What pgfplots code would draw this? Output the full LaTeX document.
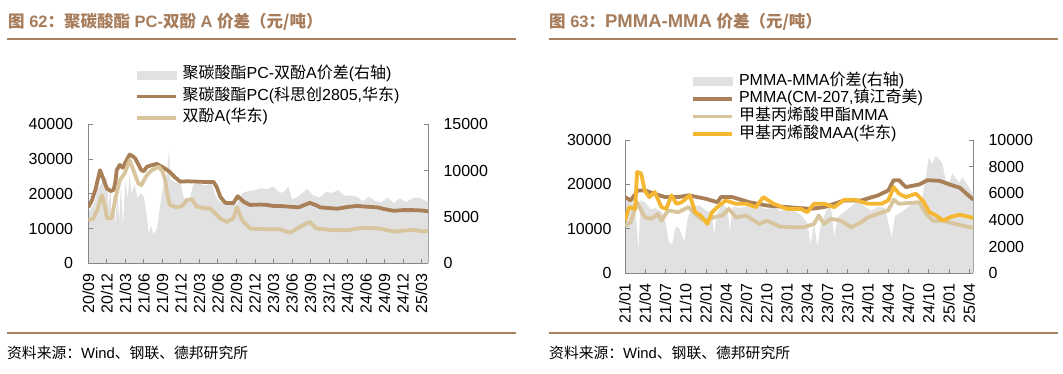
\documentclass[border=0pt]{standalone}
\usepackage{pgfplots}
\pgfplotsset{compat=1.18}
\usepackage{fontspec}
\setmainfont{Liberation Sans}
\newfontfamily\cjk{Noto Sans CJK SC}
\definecolor{pcbrown}{HTML}{A97F57}
\definecolor{bpatan}{HTML}{D9C59D}
\definecolor{maayel}{HTML}{F5B731}
\definecolor{areagray}{HTML}{E1E1E1}
\definecolor{titlebrown}{HTML}{A67C5A}
\definecolor{rulebrown}{HTML}{A8825E}
\definecolor{axisgray}{HTML}{868686}
\pgfplotsset{
  base/.style={
    scale only axis,
    axis line style={draw=axisgray, line width=0.8bp},
    major tick style={draw=axisgray, line width=0.8bp},
    tick align=inside,
    major tick length=4.5bp,
    ticklabel style={font=\fontsize{16bp}{18bp}\selectfont},
    /pgf/number format/assume math mode=true,
    /pgf/number format/1000 sep={},
    scaled y ticks=false,
    ymin=0,
  },
  xlab/.style={
    xticklabel style={yshift=-10bp, rotate=90, anchor=east, inner sep=0pt},
  },
  lineleg/.style={legend image code/.code={\draw[##1] (0bp,0bp) -- (39bp,0bp);}},
}
\begin{document}
\begin{tikzpicture}
\useasboundingbox (0,0) rectangle (1063bp,374bp);
% ---------------- titles, rules, sources
\node[anchor=west, inner sep=0pt, text=titlebrown, font=\fontsize{16.5bp}{18bp}\selectfont\bfseries] at (8bp,352.3bp)
 {{\cjk 图} 62{\cjk ：聚碳酸酯} PC-{\cjk 双酚} A {\cjk 价差（元/吨）}};
\node[anchor=west, inner sep=0pt, text=titlebrown, font=\fontsize{16.5bp}{18bp}\selectfont\bfseries] at (549bp,352.3bp)
 {{\cjk 图} 63{\cjk ：}{\fontsize{18.5bp}{18bp}\selectfont PMMA-MMA} {\cjk 价差（元/吨）}};
\draw[rulebrown, line width=2bp] (6.5bp,334.7bp) -- (516bp,334.7bp);
\draw[rulebrown, line width=2bp] (548.5bp,334.7bp) -- (1058bp,334.7bp);
\draw[rulebrown, line width=2bp] (6.5bp,40.7bp) -- (516bp,40.7bp);
\draw[rulebrown, line width=2bp] (548.5bp,40.7bp) -- (1058bp,40.7bp);
\node[anchor=west, inner sep=0pt, font=\fontsize{14.8bp}{16bp}\selectfont] at (7bp,20.7bp)
 {{\cjk 资料来源：}Wind{\cjk 、钢联、德邦研究所}};
\node[anchor=west, inner sep=0pt, font=\fontsize{14.8bp}{16bp}\selectfont] at (549bp,20.7bp)
 {{\cjk 资料来源：}Wind{\cjk 、钢联、德邦研究所}};

% ================= LEFT PANEL: secondary axis (area)
\begin{axis}[base, at={(88.3bp,110.7bp)}, anchor=south west,
  width=340bp, height=139bp, xmin=0, xmax=55.1, ymax=15000,
  axis x line=none, axis y line*=right,
  ytick={0,5000,10000,15000},
  yticklabel style={anchor=west, inner sep=0pt, xshift=15bp}]
\addplot[fill=areagray, draw=none] table[x=x,y=y] {
x y
0 5500
0.5 6000
1 6500
1.5 8000
2 8500
2.5 9000
3 9200
3.3 6000
3.6 8500
3.8 4300
4.1 7500
4.4 4000
4.7 8000
5 4500
5.3 8500
5.6 3900
6 9000
6.4 7000
6.7 9500
7 7500
7.5 8500
8 7000
8.5 7600
9 7200
9.5 5000
9.8 3300
10.2 4000
10.5 3200
11 3500
11.3 4500
11.7 6500
12.2 8500
12.7 9500
13.1 12300
13.3 9000
14 8800
15 8500
15.5 7000
16.5 7100
17 8500
18 8600
19 8400
20 8700
20.5 7500
21 6800
22 6400
23 6500
24 6300
24.5 7000
25 7600
26 7800
27 7900
28 8100
29 8000
30 8300
31 7600
31.7 7700
32.4 8300
33 6900
34 7200
35 7800
35.5 8000
36.5 7300
37.5 7100
38.5 7700
39.5 7600
40.5 7900
41.5 7300
42.5 7300
43.5 7200
44.5 6700
45.5 7200
46.5 6700
47.5 6600
48.5 7100
49.5 6500
50.5 7000
51.5 6600
52.5 7000
53.5 7100
54.5 6800
55.1 6600
} \closedcycle;
\end{axis}
% ================= LEFT PANEL: primary axis (lines)
\begin{axis}[base, xlab, at={(88.3bp,110.7bp)}, anchor=south west,
  width=340bp, height=139bp, xmin=0, xmax=55.1, ymax=40000,
  axis x line*=bottom, axis y line*=left,
  ytick={0,10000,20000,30000,40000},
  yticklabel style={anchor=east, inner sep=0pt, xshift=-15bp},
  xtick={0,3,...,54},
  xticklabels={20/09,20/12,21/03,21/06,21/09,21/12,22/03,22/06,22/09,22/12,23/03,23/06,23/09,23/12,24/03,24/06,24/09,24/12,25/03},
  legend style={at={(0.1362,1.4137)}, anchor=north west, draw=none, fill=none,
    inner sep=0pt, row sep=5.5bp, column sep=5bp,
    font=\fontsize{16bp}{18bp}\selectfont,
    nodes={inner sep=0pt, text height=12bp, text depth=4bp}},
  legend cell align=left]
\addlegendimage{legend image code/.code={\fill[areagray] (0bp,-4bp) rectangle (39bp,4bp);}}
\addlegendentry{{\cjk 聚碳酸酯}PC-{\cjk 双酚}A{\cjk 价差}({\cjk 右轴})}
\addplot[pcbrown, line width=3.8bp, line join=round, lineleg] table[x=x,y=y] {
x y
0 16100
0.6 18200
1.2 21500
1.9 26800
2.4 24500
3.0 21600
3.6 20800
4.1 21100
4.4 23500
4.6 26800
5.1 28300
5.6 27500
6.0 29000
6.7 31300
7.2 30800
7.6 30200
8.1 28500
8.6 26800
9.0 26500
9.5 27800
10.2 28200
11.1 28600
11.7 28000
12.4 27300
13.2 26300
14.0 24800
14.9 23500
16.0 23600
17.6 23500
19.0 23400
20.3 23400
20.8 22000
21.4 19100
22.2 17400
23.5 17300
24.2 19300
25.2 17700
26.2 16800
28.0 16900
28.9 16800
30.0 16500
31.1 16500
32.5 16300
34.1 16100
35.2 16900
35.9 17400
36.8 16800
37.6 16100
39.0 15900
40.3 15700
42.0 16200
43.5 16500
45.0 16300
46.8 16100
48.0 15600
49.5 15100
51.0 15300
52.7 15300
54.0 15200
55.1 14950
};
\addlegendentry{{\cjk 聚碳酸酯}PC({\cjk 科思创}2805,{\cjk 华东})}
\addplot[bpatan, line width=3.8bp, line join=round, lineleg] table[x=x,y=y] {
x y
0 12400
0.8 12800
1.5 15500
2.2 19600
2.7 16500
3.0 13000
3.8 13000
4.4 18700
5.1 23900
5.9 25900
6.7 29700
7.3 26800
8.1 23000
8.6 22500
9.5 25400
10.3 26800
11.4 27800
12.0 26500
12.4 24400
12.8 20000
13.2 16800
14.3 16100
15.2 16500
16.0 18200
16.8 18400
17.6 16300
19.0 15800
19.7 15800
20.5 14500
21.4 12900
22.4 11900
23.5 12900
24.1 16100
24.9 12500
26.2 10000
27.5 9900
28.9 9800
31.0 9800
32.7 8800
34.3 10500
35.9 11900
37.0 10000
39.2 9600
42.0 9500
43.5 10000
45.1 10200
47.2 10000
49.5 9100
51.0 9400
52.7 9600
54.0 9200
55.1 9300
};
\addlegendentry{{\cjk 双酚}A({\cjk 华东})}
\end{axis}

% ================= RIGHT PANEL: secondary axis (area)
\begin{axis}[base, at={(625bp,100.7bp)}, anchor=south west,
  width=348.3bp, height=133.3bp, xmin=0, xmax=51.6, ymax=10000,
  axis x line=none, axis y line*=right,
  ytick={0,2000,4000,6000,8000,10000},
  yticklabel style={anchor=west, inner sep=0pt, xshift=15bp}]
\addplot[fill=areagray, draw=none] table[x=x,y=y] {
x y
0 5400
0.8 5600
1.5 5000
2.0 1700
2.3 5500
3 5300
3.8 4800
4.5 4900
5.5 4600
6 3800
6.5 2300
7 2200
7.5 3500
8 3400
8.8 2400
9.3 4200
10 5000
11 5100
12 4700
12.8 4600
13.2 2900
13.6 4500
14.5 5200
15.2 4800
15.5 3200
16 5000
17 4900
18 5000
19 5100
20 5000
21 4800
22 5000
23 4700
24 4800
25 4700
26 4400
27 3800
27.5 2200
28 3700
28.5 2000
29 3600
30 4900
30.5 5000
31 2700
31.5 4200
32.5 4600
33.5 5000
34.5 5500
35.5 5000
36.5 4700
37.5 5000
38.5 4900
39.5 2700
40 4300
41 4600
42 5000
43 5300
44 5500
44.5 7000
45 8700
45.5 8200
46 8800
47 8300
47.5 7000
48 6800
48.5 7500
49.5 6800
50 7200
51 6400
51.6 6000
} \closedcycle;
\end{axis}
% ================= RIGHT PANEL: primary axis (lines)
\begin{axis}[base, xlab, at={(625bp,100.7bp)}, anchor=south west,
  width=348.3bp, height=133.3bp, xmin=0, xmax=51.6, ymax=30000,
  axis x line*=bottom, axis y line*=left,
  ytick={0,10000,20000,30000},
  yticklabel style={anchor=east, inner sep=0pt, xshift=-13.3bp},
  xtick={0,3,...,51},
  xticklabels={21/01,21/04,21/07,21/10,22/01,22/04,22/07,22/10,23/01,23/04,23/07,23/10,24/01,24/04,24/07,24/10,25/01,25/04},
  legend style={at={(0.1895,1.5026)}, anchor=north west, draw=none, fill=none,
    inner sep=0pt, row sep=1.6bp, column sep=5bp,
    font=\fontsize{16bp}{18bp}\selectfont,
    nodes={inner sep=0pt, text height=12bp, text depth=4bp}},
  legend cell align=left]
\addlegendimage{legend image code/.code={\fill[areagray] (0bp,-4bp) rectangle (39bp,4bp);}}
\addlegendentry{PMMA-MMA{\cjk 价差}({\cjk 右轴})}
\addplot[pcbrown, line width=3.8bp, line join=round, lineleg] table[x=x,y=y] {
x y
0 17150
0.85 16400
1.9 18650
2.9 18650
4.4 17900
5.9 17150
7.9 17150
9.4 17550
11.9 16800
13.7 16000
14.2 17150
15.9 17150
18.4 16000
21 15250
24 14900
27.5 14500
29.5 14900
32.5 16400
35 16400
37.5 17550
39 18650
39.8 20950
40.6 20950
41.6 19400
43.6 20000
44.8 20950
46.6 20800
48.1 20000
49.6 19250
51.6 16550
};
\addlegendentry{PMMA(CM-207,{\cjk 镇江奇美})}
\addplot[bpatan, line width=3.8bp, line join=round, lineleg] table[x=x,y=y] {
x y
0 10700
0.85 11500
1.8 16000
2.9 12600
3.9 12250
4.9 13400
5.4 11850
6.4 14150
7.9 13750
9.4 14900
10.9 12600
11.9 11850
13.2 12600
14.4 13000
15.4 14500
16.4 12600
17.9 13000
19.9 11100
21 11850
23 10500
25 10350
26.5 10350
28 11100
28.7 13000
29.5 11100
30.5 12250
32 11850
33.5 10350
35 11500
36 12600
37.5 13400
39 14150
39.8 16550
40.6 15650
42 15800
43.6 16000
44.6 13400
45.6 11850
47.1 11850
49 11100
51.6 10200
};
\addlegendentry{{\cjk 甲基丙烯酸甲酯}MMA}
\addplot[maayel, line width=3.8bp, line join=round, lineleg] table[x=x,y=y] {
x y
0 11850
0.6 14900
1.5 14500
1.8 22800
2.4 22450
2.9 18650
3.6 17150
4.4 18300
5.4 14900
6.1 14500
6.9 17550
7.6 15650
8.4 16000
9.6 17550
10.4 13750
11.2 13000
12.2 11100
12.9 13750
13.7 14900
14.9 16400
16.4 15650
17.9 15650
19.4 14900
20.5 17150
22 15650
24 14500
26 14500
27 13750
28 15650
29.5 15650
31 14900
32.5 16550
34 16550
36 15650
38 15650
39 16400
39.8 19400
40.6 17900
41.6 17150
43.1 17900
44.1 16400
45.1 13750
46.1 13000
47.1 11850
48.1 12600
49.6 13200
51.6 12450
};
\addlegendentry{{\cjk 甲基丙烯酸}MAA({\cjk 华东})}
\end{axis}
\end{tikzpicture}
\end{document}
